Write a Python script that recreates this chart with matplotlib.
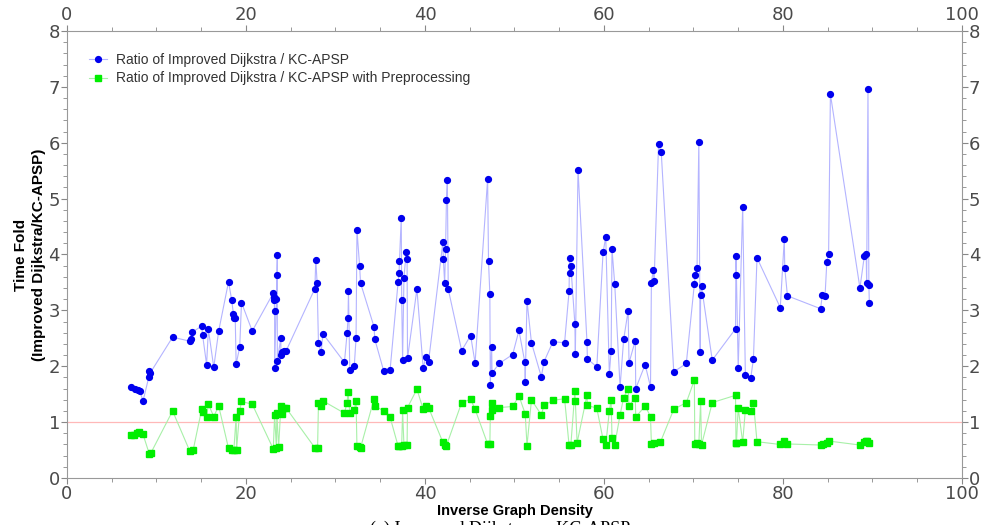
import numpy as np
import matplotlib
matplotlib.use("Agg")
import matplotlib.pyplot as plt
from matplotlib.ticker import MultipleLocator

# ratio without preprocessing (blue)
blue_x = [7.15, 7.6, 7.9, 8.15, 8.5, 9.15, 9.2, 9.3, 11.8, 13.7, 13.85, 14.0, 15.05, 15.15, 15.6, 15.8,
          16.4, 16.95, 18.05, 18.4, 18.6, 18.7, 18.8, 18.9, 19.3, 19.5, 20.7,
          23.05, 23.1, 23.15, 23.2, 23.2, 23.4, 23.5, 23.5, 23.5, 23.9, 23.9, 24.0, 24.2, 24.5,
          27.7, 27.8, 27.95, 28.1, 28.4, 28.6,
          31.0, 31.3, 31.4, 31.45, 31.6, 32.1, 32.3, 32.4, 32.7, 32.8, 34.3, 34.4, 35.4, 36.1,
          37.0, 37.1, 37.15, 37.35, 37.4, 37.5, 37.65, 37.9, 38.0, 38.05, 39.1, 39.8, 40.1, 40.4,
          42.0, 42.05, 42.2, 42.3, 42.4, 42.5, 42.6, 44.1, 45.1, 45.6,
          47.0, 47.1, 47.25, 47.3, 47.45, 47.5, 48.3, 49.8, 50.5, 51.15, 51.2, 51.4, 51.9, 53.0, 53.3, 54.3,
          55.6, 56.1, 56.15, 56.2, 56.3, 56.75, 56.8, 57.1, 58.1, 58.15, 59.2,
          59.9, 60.2, 60.6, 60.8, 60.9, 61.2, 61.8, 62.2, 62.7, 62.8, 63.5, 63.55, 64.6,
          65.2, 65.3, 65.5, 65.6, 66.1, 66.4, 67.8, 69.2,
          70.1, 70.2, 70.4, 70.6, 70.75, 70.8, 70.9, 72.1,
          74.7, 74.75, 74.8, 75.0, 75.5, 75.8, 76.4, 76.7, 77.1,
          79.7, 80.15, 80.2, 80.5, 84.2, 84.4, 84.7, 84.9, 85.1, 85.3,
          88.6, 89.1, 89.3, 89.35, 89.5, 89.6, 89.65]
blue_y = [1.62, 1.59, 1.58, 1.55, 1.38, 1.81, 1.91, 1.88, 2.52, 2.45, 2.49, 2.61, 2.72, 2.56, 2.03, 2.66,
          1.98, 2.63, 3.51, 3.19, 2.93, 2.87, 2.86, 2.04, 2.34, 3.14, 2.63,
          3.31, 3.24, 3.18, 2.99, 1.96, 3.21, 3.99, 3.63, 2.10, 2.51, 2.21, 2.25, 2.27, 2.28,
          3.39, 3.91, 3.49, 2.41, 2.25, 2.58,
          2.07, 2.59, 2.86, 3.35, 1.93, 2.00, 2.50, 4.44, 3.79, 3.49, 2.71, 2.48, 1.91, 1.93,
          3.51, 3.66, 3.89, 4.65, 3.19, 2.12, 3.58, 4.04, 3.92, 2.14, 3.38, 1.97, 2.16, 2.08,
          4.22, 3.92, 3.49, 4.10, 4.98, 5.34, 3.38, 2.28, 2.55, 2.06,
          5.35, 3.88, 3.29, 1.67, 2.34, 1.88, 2.05, 2.21, 2.64, 2.08, 1.71, 3.17, 2.42, 1.81, 2.08, 2.44,
          2.42, 3.34, 3.94, 3.66, 3.80, 2.76, 2.22, 5.52, 2.44, 2.13, 1.99,
          4.04, 4.31, 1.86, 2.28, 4.09, 3.48, 1.63, 2.48, 2.99, 2.06, 2.46, 1.60, 2.03,
          1.63, 3.49, 3.72, 3.52, 5.97, 5.83, 1.90, 2.05,
          3.48, 3.63, 3.76, 6.01, 2.25, 3.27, 3.43, 2.11,
          2.67, 3.98, 3.63, 1.97, 4.85, 1.84, 1.79, 2.13, 3.94,
          3.05, 4.28, 3.76, 3.26, 3.03, 3.27, 3.25, 3.86, 4.01, 6.87,
          3.40, 3.98, 4.00, 3.49, 6.97, 3.45, 3.14]

# ratio with preprocessing (green)
green_x = [7.15, 7.5, 7.85, 8.1, 8.5, 9.2, 9.35, 11.8, 13.7, 14.1, 15.05, 15.15, 15.6, 15.8, 16.4, 16.95,
           18.05, 18.4, 18.65, 18.9, 18.95, 19.3, 19.5, 20.7,
           23.05, 23.2, 23.4, 23.45, 23.65, 23.9, 24.0, 24.2, 24.5,
           27.7, 28.0, 28.1, 28.4, 28.6,
           31.0, 31.3, 31.4, 31.6, 32.1, 32.3, 32.4, 32.7, 32.8, 34.3, 34.4, 35.4, 36.1,
           37.0, 37.1, 37.4, 37.5, 37.65, 38.0, 38.05, 39.1, 39.8, 40.1, 40.4,
           42.0, 42.2, 42.4, 44.1, 45.1, 45.6, 47.0, 47.25, 47.3, 47.45, 47.5, 48.3,
           49.8, 50.5, 51.2, 51.4, 51.9, 53.0, 53.3, 54.3, 55.6, 56.1, 56.3, 56.75, 56.8, 57.0,
           58.1, 58.15, 59.2, 59.9, 60.2, 60.6, 60.8, 60.9, 61.2, 61.8, 62.2, 62.7, 62.8, 63.5, 63.55, 64.6,
           65.2, 65.3, 65.6, 66.3, 67.8, 69.2, 70.1, 70.15, 70.4, 70.6, 70.8, 70.9, 72.1,
           74.7, 74.75, 74.8, 75.0, 75.5, 75.8, 76.4, 76.7, 77.1,
           79.7, 80.15, 80.5, 84.2, 84.5, 84.9, 85.2, 88.6, 89.1, 89.3, 89.4, 89.6]
green_y = [0.77, 0.77, 0.81, 0.82, 0.78, 0.43, 0.44, 1.20, 0.49, 0.50, 1.23, 1.19, 1.09, 1.32, 1.10, 1.29,
           0.53, 0.51, 0.51, 1.10, 0.51, 1.20, 1.37, 1.32,
           0.52, 1.12, 0.54, 1.16, 0.56, 1.28, 1.14, 1.25, 1.25,
           0.54, 0.54, 1.34, 1.28, 1.38,
           1.16, 1.35, 1.54, 1.16, 1.21, 1.38, 0.57, 0.56, 0.54, 1.41, 1.29, 1.20, 1.09,
           0.57, 0.57, 0.58, 1.21, 0.59, 0.59, 1.26, 1.59, 1.23, 1.29, 1.26,
           0.64, 0.59, 0.58, 1.35, 1.41, 1.23, 0.61, 0.60, 1.11, 1.35, 1.22, 1.26,
           1.28, 1.47, 1.15, 0.58, 1.40, 1.13, 1.30, 1.39, 1.42, 0.59, 0.59, 1.55, 1.38, 0.63,
           1.48, 1.30, 1.25, 0.69, 0.59, 1.20, 1.39, 0.72, 0.59, 1.13, 1.44, 1.60, 1.29, 1.44, 1.09, 1.29,
           1.10, 0.61, 0.62, 0.64, 1.23, 1.35, 1.75, 0.61, 0.62, 0.61, 1.37, 0.59, 1.35,
           1.48, 0.63, 0.62, 1.25, 0.64, 1.22, 1.20, 1.35, 0.65,
           0.60, 0.66, 0.61, 0.59, 0.61, 0.63, 0.66, 0.59, 0.64, 0.66, 0.67, 0.62]

baseline = 1.0

fig = plt.figure(figsize=(9.85, 5.25), dpi=100)
ax = fig.add_axes([0.068, 0.0895, 0.9086, 0.8515])

ax.axhline(baseline, color="#ffb8b8", lw=0.9, zorder=1)
ax.plot(blue_x, blue_y, color="#b4b4ff", lw=0.8, marker="o", ms=4.2,
        mfc="#0000ee", mec="#0000ee", label="Ratio of Improved Dijkstra / KC-APSP", zorder=3)
ax.plot(green_x, green_y, color="#a8f0a8", lw=0.8, marker="s", ms=3.7,
        mfc="#00ee00", mec="#00ee00", label="Ratio of Improved Dijkstra / KC-APSP with Preprocessing", zorder=3)

ax.set_xlim(0, 100)
ax.set_ylim(0, 8)
ax.xaxis.set_major_locator(MultipleLocator(20))
ax.xaxis.set_minor_locator(MultipleLocator(5))
ax.yaxis.set_major_locator(MultipleLocator(1))
ax.yaxis.set_minor_locator(MultipleLocator(0.2))
ax.tick_params(which="both", direction="out", top=True, right=True, labeltop=True, labelright=True,
               color="#888888", labelcolor="#4a4a4a")
ax.tick_params(which="major", length=4, labelsize=13, pad=1)
ax.tick_params(which="minor", length=3)
for s in ax.spines.values():
    s.set_color("#999999")

lab_font = ["Liberation Sans Narrow", "Liberation Sans", "DejaVu Sans"]
ax.set_xlabel("Inverse Graph Density", family=lab_font, fontweight="bold", fontsize=10.5, labelpad=1)
ax.set_ylabel("Time Fold\n(Improved Dijkstra/KC-APSP)", family=lab_font, fontweight="bold",
              fontsize=11, labelpad=2, linespacing=1.3)

leg = ax.legend(loc="upper left", frameon=False, handlelength=1.3, handletextpad=0.6,
                borderaxespad=1.2, labelspacing=0.3, prop={"family": "Liberation Sans", "size": 10})
for t in leg.get_texts():
    t.set_color("#333333")

fig.text(0.508, 1 - 521 / 525, "(a) Improved Dijkstra vs. KC-APSP", ha="center", va="top",
         family="Liberation Serif", fontsize=13)

fig.savefig("out.png", dpi=100)
